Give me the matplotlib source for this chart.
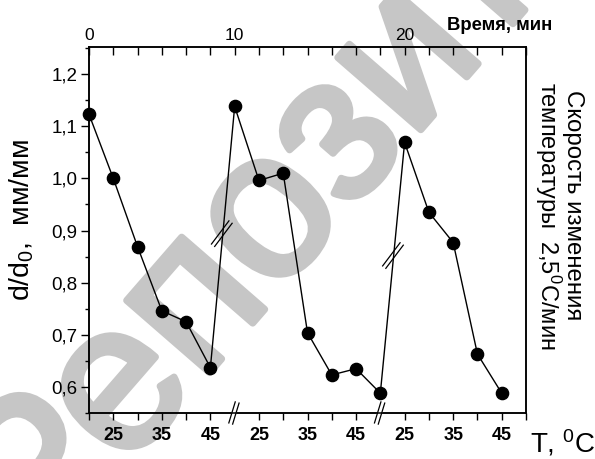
import numpy as np
import matplotlib
matplotlib.use("Agg")
import matplotlib.pyplot as plt
import matplotlib.patheffects as pe
from matplotlib.ticker import FixedLocator, MultipleLocator, FuncFormatter

plt.rcParams['font.family'] = ['Liberation Sans', 'DejaVu Sans']
plt.rcParams['mathtext.fontset'] = 'custom'
plt.rcParams['mathtext.rm'] = 'Liberation Sans'
plt.rcParams['mathtext.it'] = 'Liberation Sans:italic'

# ---- data ----
# x positions are tick slots along the broken temperature axis
x_idx = [0, 1, 2, 3, 4, 5, 6, 7, 8, 9, 10, 11, 12, 13, 14, 15, 16, 17]
d_ratio = [1.123, 1.000, 0.869, 0.746, 0.725, 0.637,
           1.138, 0.996, 1.010, 0.704, 0.623, 0.635, 0.588,
           1.069, 0.935, 0.877, 0.663, 0.588]
bottom_tick_pos = [0, 1, 2, 3, 4, 5, 7, 8, 9, 10, 11, 13, 14, 15, 16, 17, 18]
bottom_label_pos = [1, 3, 5, 7, 9, 11, 13, 15, 17]
bottom_labels = ['25', '35', '45', '25', '35', '45', '25', '35', '45']
top_label_pos = [0, 6, 13]
top_labels = ['0', '10', '20']
axis_breaks = [6, 12]
line_breaks = [(5.47, 0.894), (12.52, 0.852)]

W, H = 595, 459
fig = plt.figure(figsize=(W / 100, H / 100), dpi=100)

# watermark
fig.text(39 / W, 1 - 569 / H, 'Репозиторий', rotation=49, rotation_mode='anchor',
         ha='left', va='baseline', fontsize=150, color='#c6c6c6', zorder=0,
         path_effects=[pe.withStroke(linewidth=5, foreground='#c6c6c6')])

ax = fig.add_axes([89 / W, 1 - 413 / H, (526 - 89) / W, (413 - 47) / H])
ax.set_facecolor('none')
ax.set_zorder(1)
ax.set_xlim(0, 18)
ax.set_ylim(0.55, 1.252)

ax.plot(x_idx, d_ratio, '-o', color='black', lw=1.0, ms=8.8, zorder=3, clip_on=False)

# y axis
ax.yaxis.set_major_locator(MultipleLocator(0.1))
ax.yaxis.set_minor_locator(MultipleLocator(0.05))
ax.yaxis.set_major_formatter(FuncFormatter(lambda v, p: f'{v:.1f}'.replace('.', ',')))
ax.tick_params(axis='y', which='major', direction='out', length=5.5, width=1,
               labelsize=13.5, pad=3)
ax.tick_params(axis='y', which='minor', direction='out', length=3, width=1)
ax.tick_params(axis='y', which='both', right=False)

# bottom axis
ax.xaxis.set_major_locator(FixedLocator(bottom_tick_pos))
lab_map = dict(zip(bottom_label_pos, bottom_labels))
ax.set_xticklabels([lab_map.get(p, '') for p in bottom_tick_pos], fontweight='bold')
ax.tick_params(axis='x', which='major', direction='out', length=5, width=1,
               labelsize=13, pad=5, top=False)

# top axis
ax2 = ax.twiny()
ax2.set_xlim(0, 18)
ax2.xaxis.set_major_locator(FixedLocator(list(range(19))))
tmap = dict(zip(top_label_pos, top_labels))
ax2.set_xticklabels([tmap.get(p, '') for p in range(19)])
ax2.tick_params(axis='x', direction='in', length=6, width=1, labelsize=12.5, pad=3)
ax2.set_zorder(2)

for a in (ax, ax2):
    for s in a.spines.values():
        s.set_linewidth(1.1)

# break markers (drawn in pixel space)
fig.canvas.draw()

def brk(x, y, angle, length, gap, white=False):
    p = ax.transData.transform((x, y))
    t = np.deg2rad(angle)
    d = np.array([np.cos(t), np.sin(t)])
    n = np.array([-np.sin(t), np.cos(t)])
    inv = ax.transData.inverted()
    if white:
        a, b = p - d * length / 2, p + d * length / 2
        poly = np.array([a - n * gap / 2, b - n * gap / 2, b + n * gap / 2, a + n * gap / 2])
        pd = inv.transform(poly)
        ax.fill(pd[:, 0], pd[:, 1], color='white', zorder=4, clip_on=False)
    for s in (-gap / 2, gap / 2):
        a = p - d * length / 2 + n * s
        b = p + d * length / 2 + n * s
        ad, bd = inv.transform([a, b])
        ax.plot([ad[0], bd[0]], [ad[1], bd[1]], color='black', lw=0.9,
                zorder=5, clip_on=False)

for xb in axis_breaks:
    brk(xb - 0.03, 0.55, 73, 22, 4, white=True)
for (xb, yb) in line_breaks:
    brk(xb, yb, 53, 29, 4)

# texts
fig.text(22 / W, 1 - 220 / H, r'd/d$\mathregular{_0}$,  мм/мм', rotation=90,
         ha='center', va='center', fontsize=20.5)
fig.text(500 / W, 1 - 25 / H, 'Время, мин', ha='center', va='center',
         fontsize=13.3, fontweight='bold')
fig.text(563 / W, 1 - 443 / H, r'T, $\mathregular{^0}$C', ha='center', va='center',
         fontsize=20)
fig.text(573 / W, 1 - 205 / H, 'Скорость изменения', rotation=-90,
         ha='center', va='center', fontsize=17.3)
fig.text(548 / W, 1 - 216 / H, r'температуры  2,5$\mathregular{^0}$C/мин', rotation=-90,
         ha='center', va='center', fontsize=17)

fig.savefig('out.png', dpi=100)
